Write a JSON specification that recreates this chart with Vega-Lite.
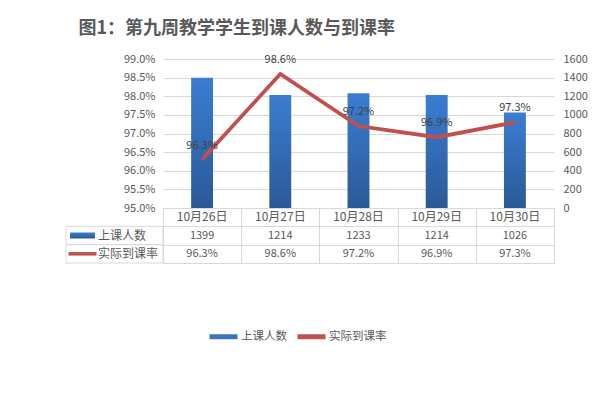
{
  "$schema": "https://vega.github.io/schema/vega-lite/v6.json",
  "padding": {"left": 65, "top": 20, "right": 5, "bottom": 5},
  "background": "white",
  "datasets": {
    "main": [
      {"日期": "10月26日", "上课人数": 1399, "实际到课率": 0.963},
      {"日期": "10月27日", "上课人数": 1214, "实际到课率": 0.986},
      {"日期": "10月28日", "上课人数": 1233, "实际到课率": 0.972},
      {"日期": "10月29日", "上课人数": 1214, "实际到课率": 0.969},
      {"日期": "10月30日", "上课人数": 1026, "实际到课率": 0.973}
    ],
    "series": [{"系列": "上课人数"}, {"系列": "实际到课率"}]
  },
  "title": {
    "text": "图1：第九周教学学生到课人数与到课率",
    "anchor": "start",
    "dx": 13,
    "offset": 15,
    "fontSize": 18,
    "font": "Noto Sans CJK SC",
    "fontWeight": "bold",
    "color": "#595959"
  },
  "columns": 2,
  "spacing": 0,
  "bounds": "flush",
  "concat": [
    {
      "width": 97,
      "height": 149,
      "data": {"values": []},
      "mark": "point",
      "encoding": {}
    },
    {
      "width": 391,
      "height": 149,
      "data": {"name": "main"},
      "encoding": {
        "x": {
          "field": "日期",
          "type": "nominal",
          "sort": null,
          "scale": {"type": "band", "paddingInner": 0.72, "paddingOuter": 0.36},
          "axis": null
        }
      },
      "layer": [
        {
          "mark": {
            "type": "bar",
            "strokeWidth": 0,
            "fill": {
              "gradient": "linear", "x1": 0, "y1": 0, "x2": 0, "y2": 1,
              "stops": [{"offset": 0, "color": "#3b7dd2"}, {"offset": 1, "color": "#2b5997"}]
            }
          },
          "encoding": {
            "y": {
              "field": "上课人数",
              "type": "quantitative",
              "scale": {"domain": [0, 1600], "nice": false},
              "axis": {
                "orient": "right",
                "format": "d",
                "values": [0, 200, 400, 600, 800, 1000, 1200, 1400, 1600],
                "grid": false, "ticks": false, "domain": false,
                "labelPadding": 9, "title": null,
                "labelColor": "#595959", "labelFontSize": 11
              }
            },
            "stroke": {
              "datum": "上课人数",
              "type": "nominal",
              "scale": {"domain": ["上课人数", "实际到课率"], "range": ["#3a74c0", "#c0504d"]},
              "legend": {
                "orient": "none",
                "legendX": 141,
                "legendY": 261,
                "direction": "horizontal",
                "title": null,
                "symbolType": "stroke",
                "symbolSize": 784,
                "symbolStrokeWidth": 5,
                "labelFontSize": 11.5,
                "labelColor": "#595959",
                "labelOffset": 1,
                "columnPadding": 0,
                "labelFont": "Noto Sans CJK SC",
                "encode": {
                  "symbols": {
                    "update": {
                      "strokeWidth": [{"test": "datum.value === '上课人数'", "value": 6}, {"value": 4}]
                    }
                  }
                }
              }
            }
          }
        },
        {
          "encoding": {
            "y": {
              "field": "实际到课率",
              "type": "quantitative",
              "scale": {"domain": [0.95, 0.99], "nice": false},
              "axis": {
                "orient": "left",
                "format": ".1%",
                "values": [0.95, 0.955, 0.96, 0.965, 0.97, 0.975, 0.98, 0.985, 0.99],
                "grid": true, "gridColor": "#d9d9d9",
                "ticks": false, "domain": false,
                "labelPadding": 8, "title": null,
                "labelColor": "#595959", "labelFontSize": 11
              }
            }
          },
          "layer": [
            {
              "mark": {"type": "line", "strokeWidth": 3.8},
              "encoding": {"stroke": {"datum": "实际到课率", "type": "nominal"}}
            },
            {
              "mark": {"type": "text", "dy": -14, "fontSize": 11, "color": "#404040"},
              "encoding": {"text": {"field": "实际到课率", "type": "quantitative", "format": ".1%"}}
            }
          ]
        }
      ],
      "resolve": {"scale": {"y": "independent"}}
    },
    {
      "width": 97,
      "height": 55,
      "data": {"name": "series"},
      "encoding": {
        "y": {
          "field": "系列",
          "type": "nominal",
          "scale": {"type": "band", "domain": ["日期", "上课人数", "实际到课率"], "paddingInner": 0, "paddingOuter": 0},
          "axis": null
        }
      },
      "layer": [
        {
          "mark": {"type": "rect", "filled": false, "stroke": "#d9d9d9", "strokeWidth": 1}
        },
        {
          "transform": [{"filter": "datum['系列'] === '上课人数'"}],
          "mark": {
            "type": "bar", "height": 6, "width": 25,
            "fill": {
              "gradient": "linear", "x1": 0, "y1": 0, "x2": 0, "y2": 1,
              "stops": [{"offset": 0, "color": "#3b7dd2"}, {"offset": 1, "color": "#2b5997"}]
            }
          },
          "encoding": {
            "x": {
              "datum": "图例",
              "type": "nominal",
              "scale": {"type": "point", "domain": ["图例", "名称"], "range": [16.5, 32], "padding": 0},
              "axis": null
            }
          }
        },
        {
          "transform": [{"filter": "datum['系列'] === '实际到课率'"}],
          "mark": {"type": "bar", "height": 3.5, "width": 28, "color": "#c0504d"},
          "encoding": {"x": {"datum": "图例", "type": "nominal"}}
        },
        {
          "mark": {"type": "text", "align": "left", "fontSize": 12, "color": "#595959"},
          "encoding": {
            "x": {"datum": "名称", "type": "nominal"},
            "text": {"field": "系列", "type": "nominal"}
          }
        }
      ]
    },
    {
      "width": 391,
      "height": 55,
      "data": {"name": "main"},
      "view": {"stroke": "#d9d9d9"},
      "encoding": {
        "x": {
          "field": "日期",
          "type": "nominal",
          "sort": null,
          "scale": {"type": "band", "paddingInner": 0, "paddingOuter": 0},
          "axis": {"labels": false, "ticks": false, "domain": false, "title": null, "grid": true, "gridColor": "#d9d9d9", "tickBand": "extent"}
        }
      },
      "layer": [
        {
          "mark": {"type": "text", "fontSize": 12, "color": "#595959"},
          "encoding": {
            "y": {
              "datum": "日期",
              "type": "nominal",
              "scale": {"type": "band", "domain": ["日期", "上课人数", "实际到课率"], "paddingInner": 0, "paddingOuter": 0},
              "axis": {"labels": false, "ticks": false, "domain": false, "title": null, "grid": true, "gridColor": "#d9d9d9", "tickBand": "extent"}
            },
            "text": {"field": "日期", "type": "nominal"}
          }
        },
        {
          "mark": {"type": "text", "fontSize": 11, "color": "#595959"},
          "encoding": {
            "y": {"datum": "上课人数", "type": "nominal"},
            "text": {"field": "上课人数", "type": "quantitative", "format": "d"}
          }
        },
        {
          "mark": {"type": "text", "fontSize": 11, "color": "#595959"},
          "encoding": {
            "y": {"datum": "实际到课率", "type": "nominal"},
            "text": {"field": "实际到课率", "type": "quantitative", "format": ".1%"}
          }
        }
      ]
    }
  ],
  "config": {
    "view": {"stroke": null},
    "font": "Noto Sans CJK SC"
  }
}
